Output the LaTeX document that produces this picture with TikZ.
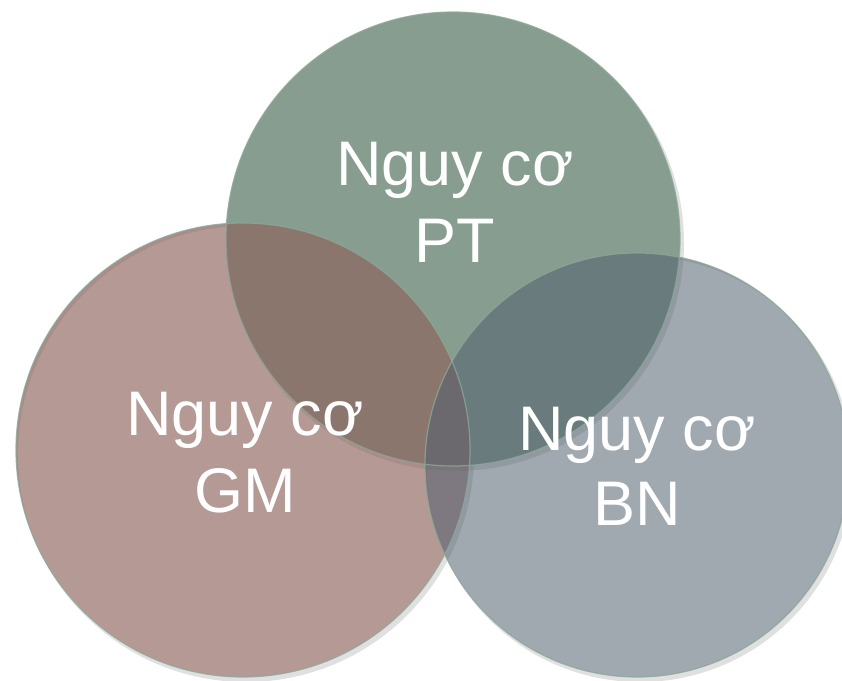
\documentclass[tikz,border=0pt]{standalone}
\usepackage{fontspec}
\setmainfont{Liberation Sans}
\definecolor{cgreen}{RGB}{134,157,143}
\definecolor{cpink}{RGB}{142,98,92}
\definecolor{cblue}{RGB}{82,96,111}
\definecolor{crim}{RGB}{140,168,152}
\begin{document}
\begin{tikzpicture}[x=1pt,y=-1pt,
  ring/.style={draw=crim, line width=1.2pt, draw opacity=0.8},
  shadowring/.style={fill=black, fill opacity=0.12, even odd rule},
  label/.style={text=white, font=\fontsize{63}{77}\selectfont, anchor=base, inner sep=0pt}
]
\useasboundingbox (0,0) rectangle (842,680);
% shadows
\fill[shadowring] (456,243) circle (228) (453,239) circle (227);
\fill[shadowring] (246,454) circle (228) (243,450) circle (227);
\fill[shadowring] (640,469) circle (213) (637,465) circle (212);
% circles
\fill[cgreen] (453,239) circle (227);
\fill[cpink, fill opacity=0.65] (243,450) circle (227);
\fill[cblue, fill opacity=0.55] (637,465) circle (212);
\draw[ring] (453,239) circle (227);
\draw[ring] (243,450) circle (227);
\draw[ring] (637,465) circle (212);
% text
\node[label] (pt1) at (455,185) {Nguy cơ};
\node[label] (pt2) at (455,262) {PT};
\node[label] (gm1) at (245,435) {Nguy cơ};
\node[label] (gm2) at (245,512) {GM};
\node[label] (bn1) at (637,450) {Nguy cơ};
\node[label] (bn2) at (637,525) {BN};
\end{tikzpicture}
\end{document}
